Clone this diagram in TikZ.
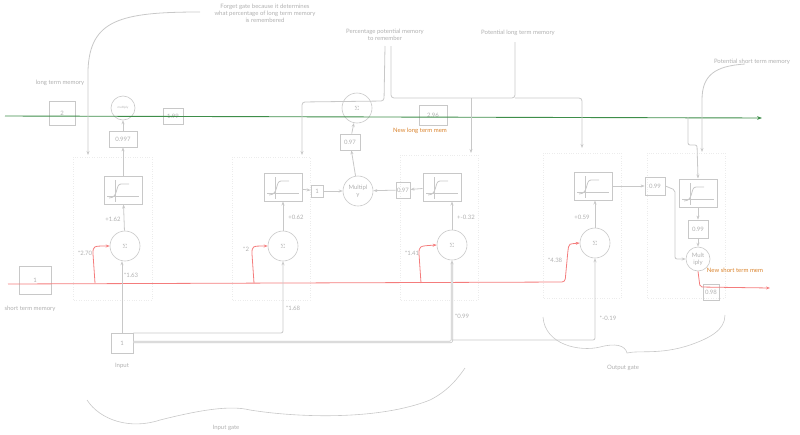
\documentclass[tikz,border=0pt]{standalone}
\usepackage{fontspec}
\setmainfont{Lato}
\usetikzlibrary{arrows.meta,decorations.pathmorphing}
\definecolor{ln}{HTML}{C8C8C8}
\definecolor{tx}{HTML}{B0B0B0}
\definecolor{gr}{HTML}{3E8E4A}
\definecolor{rd}{HTML}{F47C7C}
\definecolor{og}{HTML}{D9822B}
\begin{document}
\begin{tikzpicture}[x=1pt,y=-1pt,
  every node/.style={font=\fontsize{6}{7}\selectfont,text=tx},
  l/.style={draw=ln,line width=0.8pt},
  a/.style={l,-{Stealth[length=4pt]}},
  bx/.style={draw=ln,line width=0.8pt,minimum width=#1,minimum height=16pt,inner sep=1pt},
  bx/.default=20pt,
  cir/.style={draw=ln,circle,line width=0.6pt,minimum size=#1,inner sep=0pt,align=center},
  cir/.default=30pt,
  sig/.style={draw=ln,line width=1pt,minimum width=38pt,minimum height=28pt,path picture={
    \draw[ln,line width=0.6pt] ([xshift=3pt,yshift=-6pt]path picture bounding box.west)--([xshift=-3pt,yshift=-6pt]path picture bounding box.east);
    \draw[ln,line width=0.6pt] ([xshift=-8pt,yshift=10pt]path picture bounding box.center)--([xshift=-8pt,yshift=-12pt]path picture bounding box.center);
    \draw[ln,line width=0.8pt] ([xshift=-14pt,yshift=-8pt]path picture bounding box.center) .. controls +(10pt,0) and +(-6pt,0) .. ([xshift=-2pt,yshift=6pt]path picture bounding box.center) -- +(8pt,0);}},
  gate/.style={draw=ln!35,dotted,line width=0.4pt},
  lab/.style={font=\fontsize{5.5}{6.5}\selectfont,text=tx}]
\useasboundingbox (0,0) rectangle (800,434);
% gates
\draw[gate] (73,157) rectangle (152,300);
\draw[gate] (232,157) rectangle (310,300);
\draw[gate] (400,155) rectangle (478,300);
\draw[gate] (543,153) rectangle (621,298);
\draw[gate] (647,153) rectangle (725,298);
% long term
\node[bx=26pt,minimum height=24pt] (ltm) at (62,113) {2};
\node at (60,83) {long term memory};
\node[cir=24pt,font=\fontsize{3}{3}\selectfont] (m1) at (123,108) {multiply};
\node[bx=28pt] (f1) at (123,139) {0.997};
\node[bx=20pt] (r1) at (173,116) {1.99};
\node[sig] (s1) at (123,190) {};
\node[cir] (e1) at (125,246) {$\Sigma$};
\draw[a] (e1) -- (s1); \draw[a] (s1) -- (f1); \draw[a] (f1) -- (m1);
\node at (113,219) {+1.62};
\node at (85,253) {*2.70};
\node at (131,275) {*1.63};
% gate2
\node[sig] (s2) at (283,187) {};
\node[cir] (e2) at (283,246) {$\Sigma$};
\draw[a] (e2) -- (s2);
\node at (296,217) {+0.62};
\node at (246,249) {*2};
\node at (293,308) {*1.68};
\node[bx=12pt,minimum height=12pt] (one) at (317,191) {1};
\node[cir] (mu) at (358,191) {Multipl\\y};
\node[bx=20pt] (p97) at (350,142) {0.97};
\node[cir] (et) at (357,108) {$\Sigma$};
\draw[a] (s2) -- (one); \draw[a] (one) -- (mu); \draw[a] (mu) -- (p97); \draw[a] (p97) -- (et);
% gate3
\node[sig] (s3) at (442,187) {};
\node[bx=14pt] (q97) at (403,190) {0.97};
\node[cir] (e3) at (452,245) {$\Sigma$};
\draw[a] (e3) -- (e3 |- s3.south); \draw[a] (s3) -- (q97); \draw[a] (q97) -- (mu);
\node at (466,217) {+-0.32};
\node at (412,253) {*1.41};
\node at (462,316) {*0.99};
\node[bx=28pt,minimum height=20pt] (n296) at (433,115) {2.96};
\node[text=og] at (420,131) {New long term mem};
% gate4
\node[sig] (s4) at (593,186) {};
\node[cir] (e4) at (595,243) {$\Sigma$};
\draw[a] (e4) -- (e4 |- s4.south);
\node at (582,217) {+0.59};
\node at (555,260) {*4.38};
\node at (608,318) {*-0.19};
\node[bx=20pt,minimum height=18pt] (o99) at (655,186) {0.99};
\draw[a] (s4) -- (o99);
% gate5
\node[sig] (s5) at (698,193) {};
\node[bx=20pt,minimum height=18pt] (g99) at (698,229) {0.99};
\node[cir=24pt] (mm) at (698,259) {Mult\\iply};
\draw[a] (s5) -- (g99); \draw[a] (g99) -- (mm);
\draw[a,rounded corners=2pt] (o99.east) -- (675,190) -- (675,259) -- (mm.west);
\node[bx=16pt] (n98) at (711,292) {0.98};
\node[text=og] at (735,270) {New short term mem};
\coordinate (nst) at (770,288);
\draw[rd,line width=0.8pt,-{Stealth[length=4pt]},rounded corners=2pt] (mm.south) -- (700,287) -- (nst);
% green line
\coordinate (gs) at (5,116); \coordinate (ge) at (762,118);
\draw[gr,line width=0.9pt,-{Stealth[length=5pt]}] (gs) -- (ge);
\draw[a,rounded corners=2pt] (688,117) -- (688,145) -- (697,145) -- (s5.north);
% short term memory
\node[bx=32pt,minimum height=28pt] (stm) at (35,280) {1};
\node at (30,309) {short term memory};
\coordinate (rs) at (8,284);
\draw[rd,line width=0.8pt,rounded corners=3pt,-{Stealth[length=4pt]}] (rs) -- (565,282) -- (568,250) .. controls (569,244) .. (e4.west);
\draw[rd,line width=0.8pt,-{Stealth[length=4pt]}] (95,283) -- (93,254) .. controls (93,246) .. (e1.west);
\draw[rd,line width=0.8pt,-{Stealth[length=4pt]}] (254,283) -- (252,254) .. controls (252,246) .. (e2.west);
\draw[rd,line width=0.8pt,-{Stealth[length=4pt]}] (421,283) -- (419,254) .. controls (419,246) .. (e3.west);
% input
\node[bx=22pt,minimum height=20pt] (in) at (122,343) {1};
\node at (122,366) {Input};
\draw[a] (in) -- (in |- e1.south);
\draw[a,rounded corners=2pt] (in.east |- 0,333) -- (283,333) -- (e2.south);
\draw[a,rounded corners=2pt,double=white,double distance=0.8pt] (in.east |- 0,342) -- (452,342) -- (e3.south);
\draw[a,rounded corners=2pt] (452,340) -- (595,340) -- (e4.south);
% annotations
\node[align=center] at (265,13) {Forget gate because it determines\\what percentage of long term memory\\is remembered};
\coordinate (fg) at (200,12); \coordinate (fge) at (88,155);
\draw[a] (fg) .. controls (120,12) and (90,20) .. (88,70) -- (fge);
\node[align=center] at (385,35) {Percentage potential memory\\to remember};
\draw[a,rounded corners=3pt] (385,46) -- (384,101) -- (302,102) -- (302,155);
\node at (518,33) {Potential long term memory};
\draw[l,rounded corners=3pt] (515,42) -- (515,98) -- (391,98) -- (391,46);
\draw[a,rounded corners=3pt] (471,98) -- (471,153);
\draw[a,rounded corners=3pt] (515,98) -- (582,98) -- (582,148);
\node at (752,62) {Potential short term memory};
\draw[a] (745,64) .. controls (715,66) and (702,75) .. (702,100) -- (702,152);
% braces
\draw[l,line width=0.6pt] (87,400) .. controls (100,420) and (130,430) .. (160,420) .. controls (200,410) and (230,405) .. (250,410) .. controls (300,418) and (380,420) .. (430,400) .. controls (450,390) and (460,375) .. (465,368);
\node at (226,428) {Input gate};
\draw[l,line width=0.6pt] (543,317) .. controls (545,345) and (580,352) .. (600,347) .. controls (615,343) and (625,345) .. (627,353) .. controls (640,350) and (660,355) .. (690,345) .. controls (710,338) and (725,330) .. (725,315);
\node at (623,368) {Output gate};
\end{tikzpicture}
\end{document}
